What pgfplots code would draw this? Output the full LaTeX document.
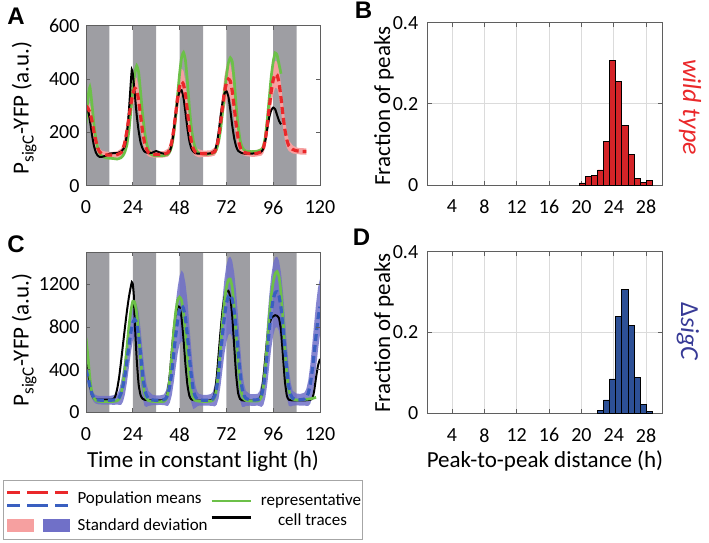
\documentclass[border=0pt]{standalone}
\usepackage{pgfplots}
\pgfplotsset{compat=1.18}
\usepackage{fontspec}
\setmainfont{Carlito}
\newfontfamily\lblfont{Liberation Sans}
\definecolor{darkband}{RGB}{158,158,163}
\definecolor{wtred}{RGB}{234,40,42}
\definecolor{pinkband}{RGB}{246,160,160}
\definecolor{meanblue}{RGB}{58,95,192}
\definecolor{blueband}{RGB}{112,112,200}
\definecolor{tracegreen}{RGB}{108,192,72}
\definecolor{barred}{RGB}{212,36,40}
\definecolor{barblue}{RGB}{45,80,150}
\definecolor{sigctext}{RGB}{55,58,150}
\definecolor{axgray}{RGB}{95,95,95}
\newcommand\tkfont{\fontsize{20}{20}\selectfont}
\newcommand\lbfont{\fontsize{23}{24}\selectfont}
\newcommand\lgfont{\fontsize{17}{18}\selectfont}

\pgfplotsset{
  every axis/.append style={
    /pgf/number format/assume math mode=true,
    /pgf/number format/1000 sep={},
    scaled ticks=false,
    tick label style={font=\tkfont},
    xticklabel style={yshift=-11.5pt},
    anchor=south west, scale only axis,
    axis line style={draw=axgray, line width=0.8pt},
    major tick style={draw=axgray, line width=0.8pt},
    major tick length=4pt,
  },
  tsaxis/.style={
    width=234pt, height=160pt,
    xmin=0, xmax=120, ymin=0,
    xtick={0,24,...,120},
    yticklabel style={xshift=-3pt},
    axis on top,
  },
  hist/.style={
    width=234.6pt,
    xmin=1, xmax=30, ymin=0, ymax=0.4,
    xtick={4,8,...,28}, ytick={0,0.2,0.4},
    yticklabels={0,0.2,0.4},
    yticklabel style={xshift=-6pt},
    xmajorgrids, ymajorgrids,
    major grid style={draw=gray!28, line width=0.8pt},
  },
}

\begin{document}
\begin{tikzpicture}
\useasboundingbox (0,0) rectangle (709pt,-542pt);

% ---------------- A ----------------
\begin{axis}[tsaxis, at={(86pt,-185.7pt)}, ymax=600, ytick={0,200,400,600}]
\addplot[fill=darkband, draw=none] coordinates {(0,0)(0,600)(12,600)(12,0)(24,0)(24,600)(36,600)(36,0)(48,0)(48,600)(60,600)(60,0)(72,0)(72,600)(84,600)(84,0)(96,0)(96,600)(108,600)(108,0)};
% standard deviation band (upper edge forward, lower edge backward)
\addplot[fill=pinkband, draw=none] coordinates {
(0,330)(1,320)(2,305)(3,280)(4,240)(5,200)(6,164)(7,142)(8,132)(10,128)(12,127)(14,127)(16,129)(18,139)(19,158)(20,195)(21,245)(22,300)(23,350)(24,390)(25,410)(26,403)(27,365)(28,307)(29,245)(30,193)(31,158)(32,140)(34,130)(36,129)(38,129)(40,130)(42,139)(43,158)(44,195)(45,250)(46,315)(47,380)(48,422)(49,440)(50,430)(51,390)(52,325)(53,255)(54,198)(55,160)(56,142)(58,136)(60,132)(62,132)(64,133)(66,143)(67,165)(68,210)(69,275)(70,345)(71,410)(72,450)(73,470)(74,457)(75,415)(76,345)(77,275)(78,213)(79,171)(80,146)(82,135)(84,133)(86,132)(88,134)(90,143)(91,162)(92,205)(93,270)(94,345)(95,410)(96,452)(97,468)(98,465)(99,435)(100,380)(101,310)(102,250)(103,202)(104,170)(106,151)(108,143)(110,141)(113,140)
(113,116)(110,117)(108,119)(106,121)(104,130)(103,142)(102,170)(101,220)(100,280)(99,335)(98,365)(97,368)(96,342)(95,300)(94,245)(93,190)(92,145)(91,122)(90,113)(88,110)(86,108)(84,109)(82,111)(80,116)(79,121)(78,143)(77,185)(76,245)(75,295)(74,327)(73,330)(72,320)(71,290)(70,245)(69,195)(68,150)(67,125)(66,113)(64,109)(62,108)(60,108)(58,106)(56,112)(55,120)(54,138)(53,175)(52,235)(51,290)(50,330)(49,340)(48,322)(47,280)(46,225)(45,170)(44,135)(43,118)(42,109)(40,106)(38,105)(36,105)(34,106)(32,110)(31,118)(30,133)(29,165)(28,217)(27,275)(26,313)(25,320)(24,300)(23,260)(22,210)(21,165)(20,135)(19,118)(18,109)(16,105)(14,103)(12,103)(10,104)(8,108)(7,112)(6,120)(5,140)(4,170)(3,210)(2,245)(1,260)(0,270)};
\addplot[tracegreen, line width=2.7pt, smooth, tension=0.3] coordinates {(0,230)(1,330)(2,370)(3,310)(4,235)(5,180)(6,142)(7,122)(8,112)(10,105)(12,103)(14,102)(16,100)(18,105)(19,113)(20,128)(21,155)(22,205)(23,280)(24,360)(25,420)(26,450)(27,425)(28,350)(29,270)(30,205)(31,160)(32,135)(33,120)(34,115)(36,112)(38,112)(40,113)(42,118)(43,128)(44,150)(45,195)(46,260)(47,340)(48,420)(49,480)(50,500)(51,470)(52,390)(53,295)(54,220)(55,170)(56,142)(57,128)(58,122)(60,120)(62,118)(64,120)(66,125)(67,138)(68,165)(69,210)(70,275)(71,345)(72,410)(73,460)(74,480)(75,465)(76,395)(77,300)(78,225)(79,172)(80,146)(81,135)(82,130)(84,128)(86,128)(88,130)(90,135)(91,148)(92,185)(93,250)(94,330)(95,410)(96,465)(97,498)(98,490)(99,455)(100,420)};
\addplot[black, line width=2pt, smooth, tension=0.3] coordinates {(0,300)(1,285)(2,245)(3,195)(4,152)(5,126)(6,113)(7,108)(8,108)(10,112)(12,120)(14,122)(16,122)(18,128)(19,136)(20,150)(21,195)(22,280)(23,390)(23.5,435)(24,420)(25,345)(26,265)(27,205)(28,162)(29,140)(30,128)(32,122)(34,124)(36,130)(38,124)(40,120)(42,122)(43,130)(44,155)(45,205)(46,270)(47,325)(48,352)(49,358)(50,330)(51,275)(52,215)(53,168)(54,140)(55,128)(56,122)(58,120)(60,120)(62,120)(64,122)(66,132)(67,155)(68,200)(69,260)(70,312)(71,345)(72,355)(73,335)(74,285)(75,225)(76,178)(77,147)(78,131)(80,122)(82,120)(84,120)(86,121)(88,123)(90,128)(91,140)(92,170)(93,215)(94,258)(95,283)(96,293)(97,287)(98,265)(99,243)(100,230)};
\addplot[wtred, line width=3.2pt, dash pattern=on 7pt off 4pt, smooth, tension=0.3] coordinates {(0,300)(1,290)(2,275)(3,245)(4,205)(5,170)(6,142)(7,127)(8,120)(10,116)(12,115)(14,115)(16,117)(18,124)(19,138)(20,165)(21,205)(22,255)(23,305)(24,345)(25,365)(26,358)(27,320)(28,262)(29,205)(30,163)(31,138)(32,125)(34,118)(36,117)(38,117)(40,118)(42,124)(43,138)(44,165)(45,210)(46,270)(47,330)(48,372)(49,390)(50,380)(51,340)(52,280)(53,215)(54,168)(55,140)(56,127)(58,121)(60,120)(62,120)(64,121)(66,128)(67,145)(68,180)(69,235)(70,295)(71,350)(72,385)(73,400)(74,392)(75,355)(76,295)(77,230)(78,178)(79,146)(80,131)(82,123)(84,121)(86,120)(88,122)(90,128)(91,142)(92,175)(93,230)(94,295)(95,355)(96,397)(97,418)(98,415)(99,385)(100,330)(101,265)(102,210)(103,172)(104,150)(106,136)(108,131)(110,129)(113,128)};
\end{axis}

% ---------------- C ----------------
\begin{axis}[tsaxis, at={(86pt,-412.3pt)}, ymax=1500, ytick={0,400,800,1200}]
\addplot[fill=darkband, draw=none] coordinates {(0,0)(0,1500)(12,1500)(12,0)(24,0)(24,1500)(36,1500)(36,0)(48,0)(48,1500)(60,1500)(60,0)(72,0)(72,1500)(84,1500)(84,0)(96,0)(96,1500)(108,1500)(108,0)};
\addplot[fill=blueband, fill opacity=0.85, draw=none] coordinates {
(0,460)(1,390)(2,300)(3,220)(4,178)(5,162)(6,156)(8,153)(10,153)(12,153)(14,160)(16,172)(17,210)(18,290)(19,400)(20,530)(21,680)(22,820)(23,940)(24,1010)(25,1030)(26,1015)(27,940)(28,780)(29,580)(30,400)(31,270)(32,200)(34,166)(36,158)(38,159)(40,168)(41,202)(42,280)(43,410)(44,600)(45,820)(46,1020)(47,1170)(48,1280)(49,1330)(50,1305)(51,1210)(52,1050)(53,820)(54,590)(55,390)(56,260)(57,195)(58,172)(60,163)(62,163)(64,171)(65,190)(66,255)(67,390)(68,590)(69,830)(70,1060)(71,1250)(72,1380)(73,1445)(74,1460)(75,1420)(76,1310)(77,1130)(78,890)(79,630)(80,410)(81,270)(82,200)(84,172)(86,170)(88,173)(89,198)(90,270)(91,410)(92,620)(93,870)(94,1100)(95,1280)(96,1400)(97,1450)(98,1460)(99,1420)(100,1310)(101,1130)(102,890)(103,640)(104,420)(105,275)(106,202)(108,175)(110,173)(112,184)(113,220)(114,300)(115,440)(116,630)(117,830)(118,1020)(119,1170)(120,1250)
(120,730)(119,590)(118,420)(117,270)(116,150)(115,80)(114,60)(113,60)(112,64)(110,63)(108,65)(106,62)(105,55)(104,60)(103,140)(102,290)(101,470)(100,650)(99,760)(98,800)(97,790)(96,720)(95,600)(94,440)(93,270)(92,140)(91,70)(90,50)(89,58)(88,63)(86,60)(84,62)(82,60)(81,50)(80,50)(79,110)(78,250)(77,430)(76,590)(75,700)(74,740)(73,725)(72,660)(71,550)(70,400)(69,250)(68,130)(67,70)(66,55)(65,60)(64,61)(62,63)(60,63)(58,62)(57,55)(56,40)(55,30)(54,90)(53,220)(52,390)(51,550)(50,645)(49,670)(48,640)(47,550)(46,420)(45,280)(44,160)(43,90)(42,60)(41,62)(40,68)(38,69)(36,68)(34,66)(32,60)(31,50)(30,60)(29,140)(28,300)(27,500)(26,655)(25,710)(24,670)(23,560)(22,420)(21,280)(20,170)(19,100)(18,70)(17,70)(16,72)(14,70)(12,73)(10,73)(8,73)(6,76)(5,82)(4,98)(3,130)(2,190)(1,270)(0,340)};
\addplot[black, line width=2pt, smooth, tension=0.3] coordinates {(0,470)(1,390)(2,260)(3,165)(4,130)(5,120)(6,118)(8,118)(10,118)(12,118)(14,122)(15,150)(16,220)(17,330)(18,480)(19,640)(20,800)(21,950)(22,1080)(23,1180)(23.5,1220)(24,1200)(24.5,1100)(25,850)(26,500)(27,260)(28,160)(29,128)(30,118)(32,114)(34,112)(36,112)(38,112)(40,115)(41,130)(42,200)(43,360)(44,580)(45,780)(46,920)(47,990)(48,985)(49,890)(50,690)(51,450)(52,260)(53,155)(54,122)(56,112)(58,110)(60,110)(62,110)(64,112)(65,125)(66,180)(67,320)(68,540)(69,760)(70,950)(71,1080)(72,1130)(73,1140)(74,1080)(75,900)(76,620)(77,350)(78,180)(79,125)(80,112)(82,110)(84,110)(86,110)(88,112)(89,125)(90,180)(91,320)(92,520)(93,700)(94,820)(95,880)(96,900)(97,910)(98,905)(99,880)(100,770)(101,530)(102,290)(103,155)(104,118)(106,112)(108,112)(110,112)(112,112)(114,115)(116,125)(117,200)(118,330)(119,440)(120,500)};
\addplot[tracegreen, line width=2.7pt, smooth, tension=0.3] coordinates {(0,700)(1,520)(2,320)(3,190)(4,135)(5,112)(6,105)(8,100)(10,100)(12,100)(14,102)(16,108)(17,125)(18,175)(19,270)(20,420)(21,610)(22,800)(23,950)(24,1040)(25,1030)(26,930)(27,740)(28,500)(29,300)(30,180)(31,130)(32,110)(34,102)(36,100)(38,100)(40,103)(41,120)(42,180)(43,320)(44,530)(45,760)(46,940)(47,1050)(48,1080)(49,1050)(50,930)(51,740)(52,520)(53,320)(54,190)(55,135)(56,112)(58,104)(60,102)(62,102)(64,104)(65,112)(66,140)(67,230)(68,400)(69,620)(70,850)(71,1040)(72,1170)(73,1240)(74,1250)(75,1170)(76,980)(77,720)(78,450)(79,260)(80,160)(81,125)(82,112)(84,106)(86,105)(88,107)(89,115)(90,150)(91,250)(92,430)(93,670)(94,900)(95,1090)(96,1220)(97,1300)(98,1320)(99,1270)(100,1120)(101,880)(102,600)(103,360)(104,210)(105,150)(106,125)(108,115)(110,118)(112,120)(114,124)(116,130)(118,140)};
\addplot[meanblue, line width=3.2pt, dash pattern=on 7pt off 4pt, smooth, tension=0.3] coordinates {(0,400)(1,330)(2,245)(3,175)(4,138)(5,122)(6,116)(8,113)(10,113)(12,113)(14,115)(16,122)(17,140)(18,180)(19,250)(20,350)(21,480)(22,620)(23,750)(24,840)(25,870)(26,835)(27,720)(28,540)(29,360)(30,230)(31,160)(32,130)(34,116)(36,113)(38,114)(40,118)(41,132)(42,170)(43,250)(44,380)(45,550)(46,720)(47,860)(48,960)(49,1000)(50,975)(51,880)(52,720)(53,520)(54,340)(55,210)(56,150)(57,125)(58,117)(60,113)(62,113)(64,116)(65,125)(66,155)(67,230)(68,360)(69,540)(70,730)(71,900)(72,1020)(73,1085)(74,1100)(75,1060)(76,950)(77,780)(78,570)(79,370)(80,230)(81,160)(82,130)(84,117)(86,115)(88,118)(89,128)(90,160)(91,240)(92,380)(93,570)(94,770)(95,940)(96,1060)(97,1120)(98,1130)(99,1090)(100,980)(101,800)(102,590)(103,390)(104,240)(105,165)(106,132)(108,120)(110,118)(112,124)(113,140)(114,180)(115,260)(116,390)(117,550)(118,720)(119,880)(120,990)};
\end{axis}

% ---------------- B ----------------
\begin{axis}[hist, at={(427.7pt,-185pt)}, height=162.3pt]
\addplot[ybar, bar width=0.75, bar shift=0pt, fill=barred, draw=black, line width=0.8pt] coordinates {(20.125,0.005)(20.875,0.021)(21.625,0.023)(22.375,0.037)(23.125,0.108)(23.875,0.306)(24.625,0.255)(25.375,0.147)(26.125,0.076)(26.875,0.016)(27.625,0.006)(28.375,0.012)};
\end{axis}

% ---------------- D ----------------
\begin{axis}[hist, at={(427.7pt,-413.3pt)}, height=161.6pt]
\addplot[ybar, bar width=0.75, bar shift=0pt, fill=barblue, draw=black, line width=0.8pt] coordinates {(22.375,0.006)(23.125,0.033)(23.875,0.085)(24.625,0.239)(25.375,0.307)(26.125,0.218)(26.875,0.089)(27.625,0.023)(28.375,0.005)};
\end{axis}

% labels
\node[font=\lblfont\bfseries\fontsize{24}{24}\selectfont] at (16pt,-16.5pt) {A};
\node[font=\lblfont\bfseries\fontsize{24}{24}\selectfont] at (363.5pt,-10pt) {B};
\node[font=\lblfont\bfseries\fontsize{24}{24}\selectfont] at (16pt,-244pt) {C};
\node[font=\lblfont\bfseries\fontsize{24}{24}\selectfont] at (361.5pt,-237pt) {D};

\node[rotate=90, anchor=base, font=\lbfont, inner sep=0pt] at (28.5pt,-108pt) {P\raisebox{-5pt}{\fontsize{17}{17}\selectfont sigC}-YFP (a.u.)};
\node[rotate=90, anchor=base, font=\lbfont, inner sep=0pt] at (28.5pt,-340pt) {P\raisebox{-5pt}{\fontsize{17}{17}\selectfont sigC}-YFP (a.u.)};
\node[rotate=90, anchor=base, font=\lbfont, inner sep=0pt] at (390pt,-106pt) {Fraction of peaks};
\node[rotate=90, anchor=base, font=\lbfont, inner sep=0pt] at (390pt,-333pt) {Fraction of peaks};
\node[anchor=base, font=\lbfont, inner sep=0pt] at (203pt,-467pt) {Time in constant light (h)};
\node[anchor=base, font=\lbfont, inner sep=0pt] at (545pt,-467pt) {Peak-to-peak distance (h)};
\node[rotate=-90, anchor=base, font=\fontsize{26}{26}\selectfont\itshape, text=wtred, inner sep=0pt] at (683pt,-107pt) {wild type};
\node[rotate=-90, anchor=base, font=\fontsize{26}{26}\selectfont, text=sigctext, inner sep=0pt] at (681pt,-332pt) {Δ\textit{sigC}};

% legend
\draw[draw=gray!70, line width=1pt] (3.3pt,-480.7pt) rectangle (362pt,-539pt);
\draw[wtred, line width=3pt, dash pattern=on 13pt off 7pt on 21pt off 7pt on 13pt] (7pt,-492.3pt) -- (68pt,-492.3pt);
\draw[meanblue, line width=3pt, dash pattern=on 13pt off 7pt on 21pt off 7pt on 13pt] (7pt,-505pt) -- (68pt,-505pt);
\fill[pinkband] (7pt,-519pt) rectangle (34pt,-531.7pt);
\fill[blueband] (43pt,-519pt) rectangle (70pt,-531.7pt);
\node[anchor=west, font=\lgfont, inner sep=0pt] at (77.3pt,-499pt) {Population means};
\node[anchor=west, font=\lgfont, inner sep=0pt] at (77.3pt,-525pt) {Standard deviation};
\draw[tracegreen, line width=2.7pt] (211.7pt,-501pt) -- (250.7pt,-501pt);
\draw[black, line width=3pt] (211.7pt,-517.7pt) -- (250.7pt,-517.7pt);
\node[font=\lgfont, inner sep=0pt] at (311pt,-500.7pt) {representative};
\node[font=\lgfont, inner sep=0pt] at (312.5pt,-519.3pt) {cell traces};
\end{tikzpicture}
\end{document}
